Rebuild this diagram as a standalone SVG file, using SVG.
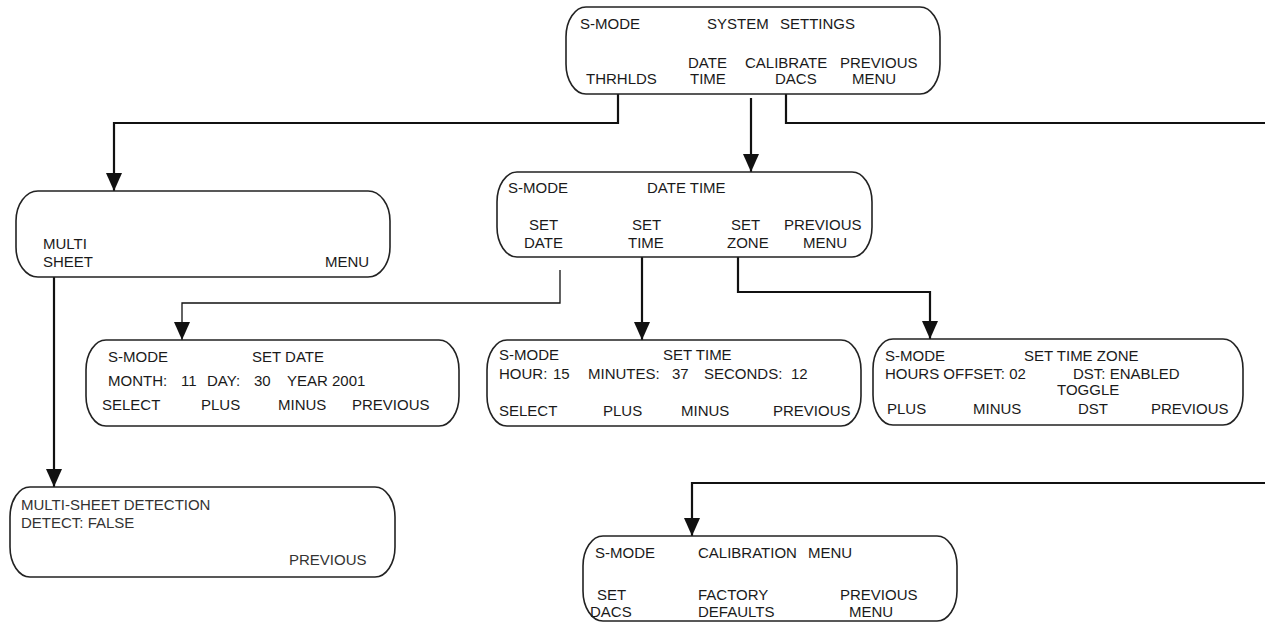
<svg xmlns="http://www.w3.org/2000/svg" width="1265" height="623" viewBox="0 0 1265 623">
<style>
.box{fill:#fff;stroke:#222;stroke-width:1.6}
.t{font-family:"Liberation Sans",Arial,sans-serif;font-size:15px;fill:#1a1a1a}
.lt{fill:#333}
.c{fill:none;stroke:#111;stroke-width:2.2}
.thin{stroke-width:1.3}
</style>
<defs>
<marker id="arr" markerUnits="userSpaceOnUse" markerWidth="18" markerHeight="16" viewBox="0 0 18 16" refX="18" refY="8" orient="auto">
<path d="M0,0 L18,8 L0,16 z" fill="#111"/>
</marker>
</defs>
<rect width="1265" height="623" fill="#fff"/>
<g id="connectors">
<path class="c" d="M618,94 V123 H114 V191" marker-end="url(#arr)"/>
<path class="c" d="M751,98 V172" marker-end="url(#arr)"/>
<path class="c" d="M786,94 V123 H1280 V483 H692 V536" marker-end="url(#arr)"/>
<path class="c thin" d="M560,270 V303 H182 V340" marker-end="url(#arr)"/>
<path class="c" d="M642,250 V340" marker-end="url(#arr)"/>
<path class="c" d="M738,250 V292 H930 V339" marker-end="url(#arr)"/>
<path class="c" d="M54,263 V487" marker-end="url(#arr)"/>
</g>
<g id="system-settings">
<rect class="box" x="566" y="7" width="374" height="87" rx="20" ry="30"/>
<text class="t" x="580" y="29">S-MODE</text>
<text class="t" x="707" y="29">SYSTEM</text>
<text class="t" x="780" y="29">SETTINGS</text>
<text class="t" x="688" y="68">DATE</text>
<text class="t" x="745" y="68">CALIBRATE</text>
<text class="t" x="840" y="68">PREVIOUS</text>
<text class="t" x="586" y="84">THRHLDS</text>
<text class="t" x="690" y="84">TIME</text>
<text class="t" x="775" y="84">DACS</text>
<text class="t" x="852" y="84">MENU</text>
</g>
<g id="multi-sheet-menu">
<rect class="box" x="16" y="191" width="374" height="86" rx="22" ry="30"/>
<text class="t" x="43" y="249">MULTI</text>
<text class="t" x="43" y="267">SHEET</text>
<text class="t" x="325" y="267">MENU</text>
</g>
<g id="date-time">
<rect class="box" x="497" y="172" width="375" height="85" rx="20" ry="30"/>
<text class="t" x="508" y="193">S-MODE</text>
<text class="t" x="647" y="193">DATE TIME</text>
<text class="t" x="529" y="230">SET</text>
<text class="t" x="524" y="248">DATE</text>
<text class="t" x="632" y="230">SET</text>
<text class="t" x="628" y="248">TIME</text>
<text class="t" x="731" y="230">SET</text>
<text class="t" x="727" y="248">ZONE</text>
<text class="t" x="784" y="230">PREVIOUS</text>
<text class="t" x="803" y="248">MENU</text>
</g>
<g id="set-date">
<rect class="box" x="86" y="340" width="373" height="86" rx="20" ry="30"/>
<text class="t" x="108" y="362">S-MODE</text>
<text class="t" x="252" y="362">SET DATE</text>
<text class="t" y="386"><tspan x="108">MONTH:</tspan><tspan x="181">11</tspan><tspan x="207">DAY:</tspan><tspan x="254">30</tspan><tspan x="287">YEAR 2001</tspan></text>
<text class="t" x="102" y="410">SELECT</text>
<text class="t" x="201" y="410">PLUS</text>
<text class="t" x="278" y="410">MINUS</text>
<text class="t" x="352" y="410">PREVIOUS</text>
</g>
<g id="set-time">
<rect class="box" x="487" y="340" width="374" height="86" rx="20" ry="30"/>
<text class="t" x="499" y="360">S-MODE</text>
<text class="t" x="663" y="360">SET TIME</text>
<text class="t" y="379"><tspan x="499">HOUR:</tspan><tspan x="553">15</tspan><tspan x="588">MINUTES:</tspan><tspan x="672">37</tspan><tspan x="704">SECONDS:</tspan><tspan x="791">12</tspan></text>
<text class="t" x="499" y="416">SELECT</text>
<text class="t" x="603" y="416">PLUS</text>
<text class="t" x="681" y="416">MINUS</text>
<text class="t" x="773" y="416">PREVIOUS</text>
</g>
<g id="set-time-zone">
<rect class="box" x="873" y="339" width="370" height="86" rx="20" ry="30"/>
<text class="t" x="885" y="361">S-MODE</text>
<text class="t" x="1024" y="361">SET TIME ZONE</text>
<text class="t" x="885" y="379">HOURS OFFSET: 02</text>
<text class="t" x="1073" y="379">DST: ENABLED</text>
<text class="t" x="1057" y="395">TOGGLE</text>
<text class="t" x="887" y="414">PLUS</text>
<text class="t" x="973" y="414">MINUS</text>
<text class="t" x="1078" y="414">DST</text>
<text class="t" x="1151" y="414">PREVIOUS</text>
</g>
<g id="multi-sheet-detection">
<rect class="box" x="10" y="487" width="385" height="90" rx="20" ry="30"/>
<text class="t lt" x="21" y="510">MULTI-SHEET DETECTION</text>
<text class="t lt" x="21" y="528">DETECT: FALSE</text>
<text class="t lt" x="289" y="565">PREVIOUS</text>
</g>
<g id="calibration-menu">
<rect class="box" x="583" y="536" width="374" height="85" rx="20" ry="30"/>
<text class="t" x="595" y="558">S-MODE</text>
<text class="t" x="698" y="558">CALIBRATION</text>
<text class="t" x="808" y="558">MENU</text>
<text class="t" x="597" y="600">SET</text>
<text class="t" x="590" y="617">DACS</text>
<text class="t" x="698" y="600">FACTORY</text>
<text class="t" x="698" y="617">DEFAULTS</text>
<text class="t" x="840" y="600">PREVIOUS</text>
<text class="t" x="849" y="617">MENU</text>
</g>
</svg>
